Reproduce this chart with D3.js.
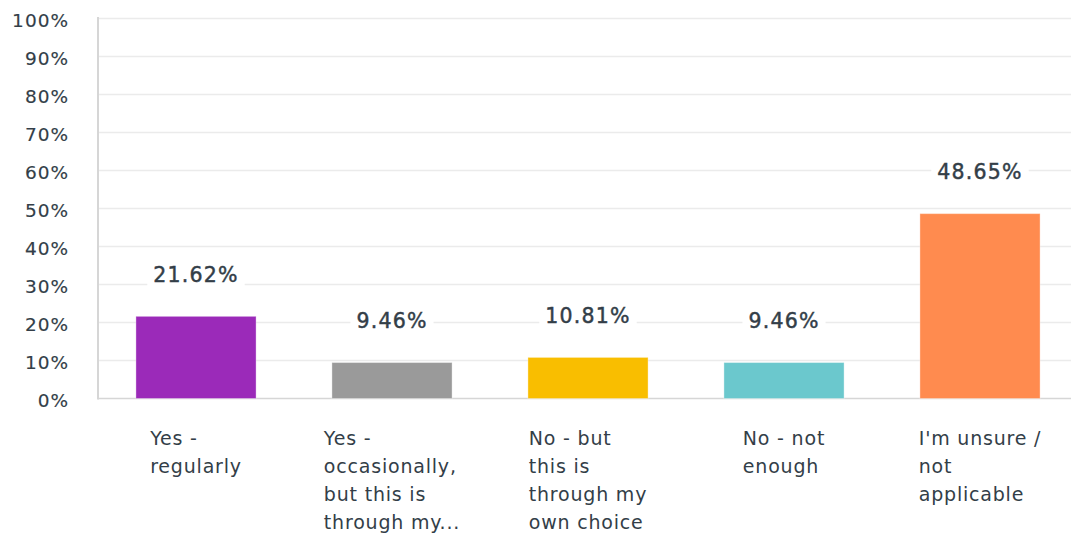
<!DOCTYPE html>
<html>
<head>
<meta charset="utf-8">
<script src="https://cdn.jsdelivr.net/npm/d3@7"></script>
<style>
  html, body { margin: 0; padding: 0; background: #fff; }
  svg { display: block; }
  text { font-family: "DejaVu Sans", sans-serif; fill: #333e48; }
</style>
</head>
<body>
<svg id="chart" width="1071" height="533"></svg>
<script>
// Survey answers and their share of respondents (%)
const categories = [
  ["Yes -", "regularly"],
  ["Yes -", "occasionally,", "but this is", "through my..."],
  ["No - but", "this is", "through my", "own choice"],
  ["No - not", "enough"],
  ["I'm unsure /", "not", "applicable"]
];
const values = [21.62, 9.46, 10.81, 9.46, 48.65];
const barColors = ["#9b2ab9", "#9a9a9a", "#f9be00", "#6bc8cd", "#ff8b4f"];
const yTicks = [0, 10, 20, 30, 40, 50, 60, 70, 80, 90, 100];

const svg = d3.select("#chart");
const plotLeft = 98, plotRight = 1078, plotTop = 18.5, plotBottom = 398.5;

const keys = categories.map((c, i) => i);
const x = d3.scaleBand().domain(keys).range([plotLeft, plotRight]).paddingInner(0.387).paddingOuter(0.1935);
const y = d3.scaleLinear().domain([0, 100]).range([plotBottom, plotTop]);

// horizontal gridlines
svg.append("g").selectAll("line").data(yTicks.filter(t => t > 0)).join("line")
  .attr("x1", plotLeft).attr("x2", 1071)
  .attr("y1", d => y(d)).attr("y2", d => y(d))
  .attr("stroke", "#ebebeb").attr("stroke-width", 1.5);

// y axis tick labels
const yAxis = d3.axisLeft(y).tickValues(yTicks).tickSize(0).tickPadding(0).tickFormat(d => d + "%");
const yg = svg.append("g").attr("transform", "translate(69,0)").call(yAxis);
yg.select(".domain").remove();
yg.selectAll("text")
  .attr("font-family", "DejaVu Sans").attr("font-size", 18.5)
  .attr("letter-spacing", 1).attr("fill", "#333e48").attr("dy", "0.42em")
  .attr("stroke", "#333e48").attr("stroke-width", 0.15);

// axis lines
svg.append("line").attr("x1", plotLeft).attr("x2", plotLeft).attr("y1", plotTop - 1.5).attr("y2", plotBottom + 1)
  .attr("stroke", "#d6d6d6").attr("stroke-width", 2);
svg.append("line").attr("x1", plotLeft).attr("x2", 1071).attr("y1", plotBottom).attr("y2", plotBottom)
  .attr("stroke", "#d6d6d6").attr("stroke-width", 1.5);

// bars
svg.append("g").selectAll("rect").data(values).join("rect")
  .attr("x", (d, i) => x(i))
  .attr("width", x.bandwidth())
  .attr("y", d => y(d))
  .attr("height", d => y(0) - y(d))
  .attr("fill", (d, i) => barColors[i])
  .attr("stroke", "rgba(255,255,255,0.35)").attr("stroke-width", 1);

// value labels with a white backing
const vl = svg.append("g").selectAll("g").data(values).join("g")
  .attr("transform", (d, i) => `translate(${x(i) + x.bandwidth() / 2},${y(d) - 42})`);
vl.append("text")
  .attr("text-anchor", "middle").attr("dy", "0.36em")
  .attr("font-size", 20.5).attr("letter-spacing", 1.2)
  .attr("stroke", "#333e48").attr("stroke-width", 0.45)
  .text(d => d.toFixed(2) + "%");
vl.each(function () {
  const g = d3.select(this);
  const b = g.select("text").node().getBBox();
  g.insert("rect", "text").attr("x", b.x - 6).attr("y", b.y).attr("width", b.width + 12)
    .attr("height", b.height).attr("fill", "#fff");
});

// category labels, wrapped lines left-aligned in a block centred under each bar
const cl = svg.append("g").selectAll("text").data(categories).join("text")
  .attr("font-size", 19).attr("letter-spacing", 0.8);
cl.each(function (lines, i) {
  const t = d3.select(this);
  lines.forEach((ln, j) => {
    t.append("tspan").attr("y", 445 + j * 28).text(ln);
  });
  let w = 0;
  t.selectAll("tspan").each(function () { w = Math.max(w, this.getComputedTextLength()); });
  const x0 = x(i) + x.bandwidth() / 2 - w / 2;
  t.selectAll("tspan").attr("x", x0);
});
</script>
</body>
</html>
